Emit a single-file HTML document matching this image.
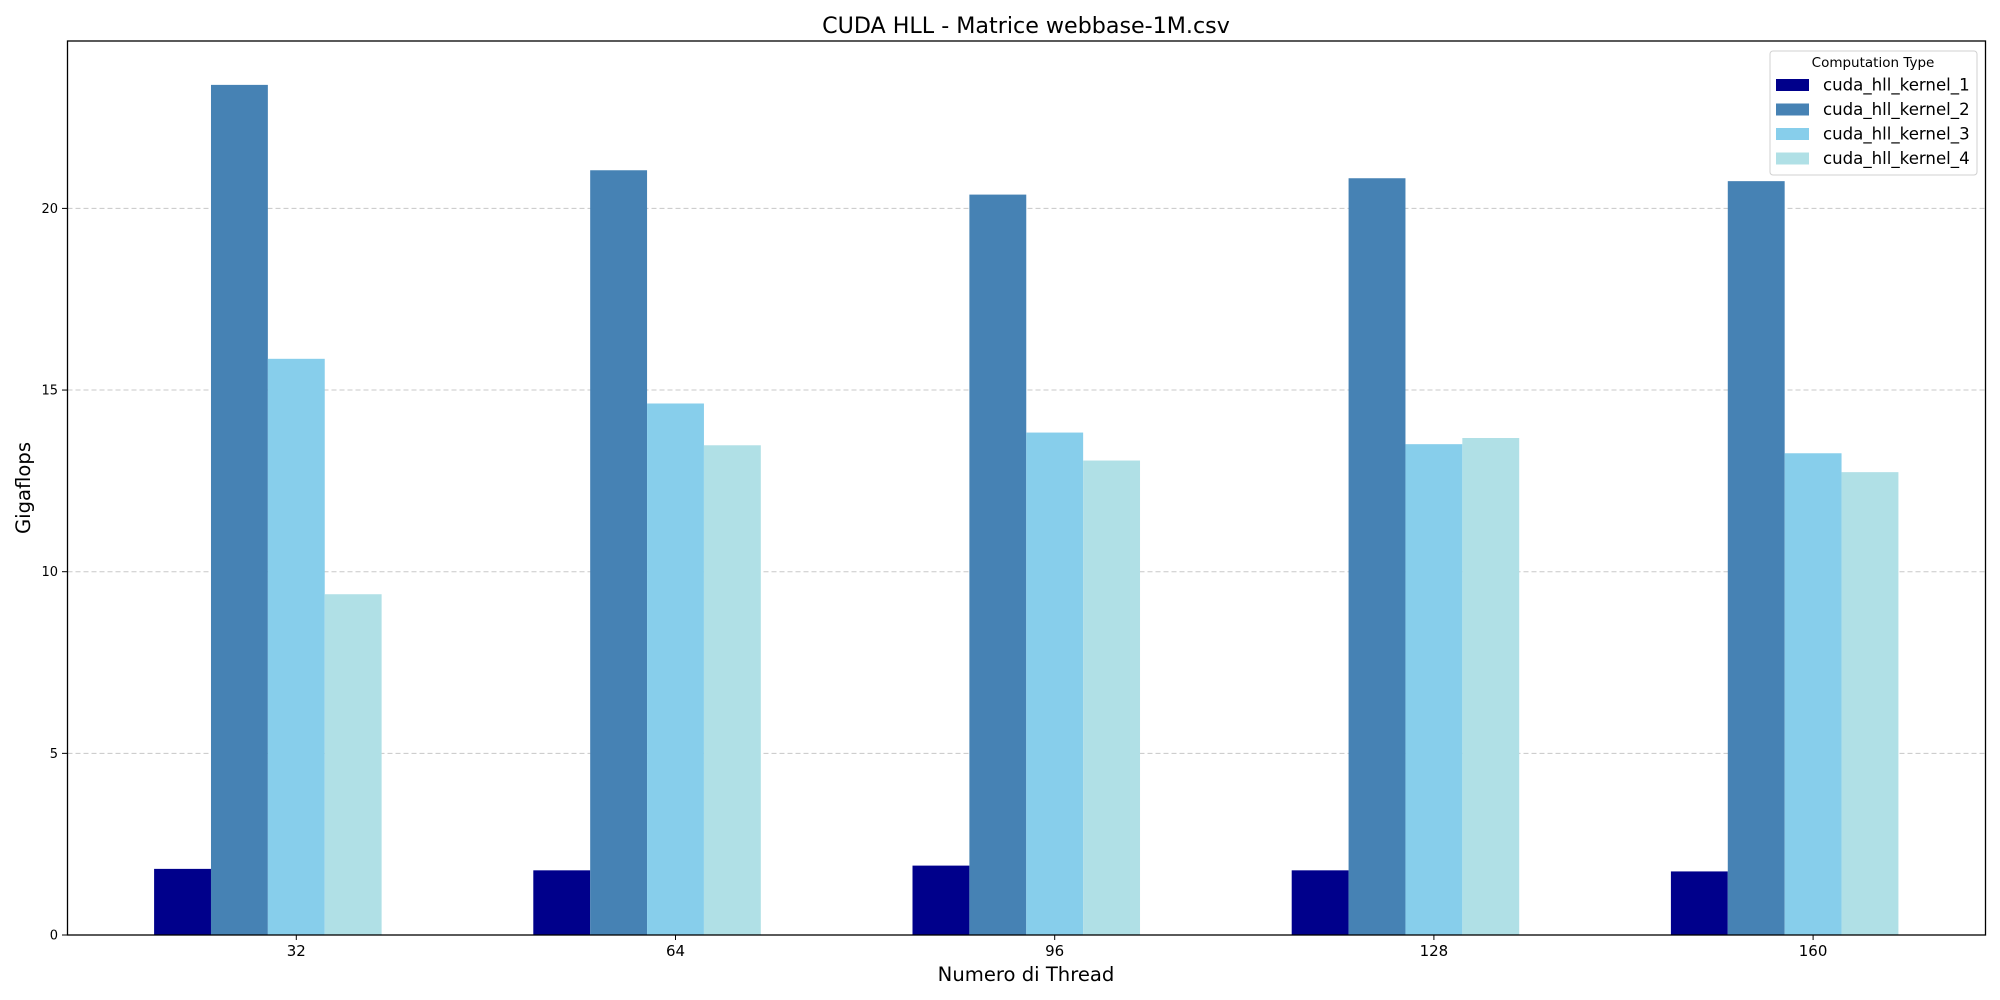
<!DOCTYPE html>
<html><head><meta charset="utf-8"><style>
html,body{margin:0;padding:0;background:#fff;}
svg{display:block;font-family:"DejaVu Sans","Liberation Sans",sans-serif;}
</style></head><body>
<svg id="chart" width="2000" height="1000">
<text x="1026" y="33" text-anchor="middle" font-size="22.2">CUDA HLL - Matrice webbase-1M.csv</text>
<g id="grid"></g>
<g id="bars"></g>
<rect x="67.5" y="41" width="1918" height="894" fill="none" stroke="#000" stroke-width="1.3"/>
<g id="yticks"></g>
<g id="xticks"></g>
<text x="1026" y="981" text-anchor="middle" font-size="19.6">Numero di Thread</text>
<text transform="translate(30,488) rotate(-90)" text-anchor="middle" font-size="19.6">Gigaflops</text>
<g id="legend"></g>
</svg>
<script>
const categories = ["32","64","96","128","160"];
const seriesNames = ["cuda_hll_kernel_1","cuda_hll_kernel_2","cuda_hll_kernel_3","cuda_hll_kernel_4"];
const kernel1 = [1.82,1.78,1.91,1.78,1.75];
const kernel2 = [23.4,21.05,20.38,20.83,20.75];
const kernel3 = [15.86,14.63,13.83,13.51,13.26];
const kernel4 = [9.38,13.48,13.06,13.68,12.74];
const yTicks = [0,5,10,15,20];

const series = [kernel1,kernel2,kernel3,kernel4];
const colors = ["#00008b","#4682b4","#87ceeb","#b0e0e6"];
const NS="http://www.w3.org/2000/svg";
const y0=935, yUnit=36.33;
const x0=296.3, xStep=379.2, bw=0.15*xStep;
function yS(v){return y0-v*yUnit;}
function xS(i){return x0+i*xStep;}
function mk(tag,attrs,parent){const e=document.createElementNS(NS,tag);for(const k in attrs)e.setAttribute(k,attrs[k]);parent.appendChild(e);return e;}
const grid=document.getElementById('grid'),bars=document.getElementById('bars'),yt=document.getElementById('yticks'),xt=document.getElementById('xticks'),lg=document.getElementById('legend');
yTicks.forEach(v=>{
  const y=yS(v);
  if(v>0){const l=mk('line',{x1:67.5,x2:1985.5,y1:y,y2:y,stroke:'#c8c8c8','stroke-dasharray':'5,3','stroke-width':1},grid);
  
  }
  const t=mk('line',{x1:62,x2:67.5,y1:y,y2:y,stroke:'#000'},yt);
  
  
  const tx=mk('text',{x:58,y:y+4.5,'text-anchor':'end','font-size':13},yt);
  tx.textContent=v;
  
  
});
categories.forEach((c,i)=>{
  const x=xS(i);
  const t=mk('line',{x1:x,x2:x,y1:935,y2:940,stroke:'#000'},xt);
  
  
  const tx=mk('text',{x:x,y:956,'text-anchor':'middle','font-size':15},xt);
  tx.textContent=c;
  
  
  series.forEach((s,j)=>{
    const cx=x+(j-2)*bw;
    const r=mk('rect',{x:cx-bw/2,y:yS(s[i]),width:bw,height:s[i]*yUnit,fill:colors[j]},bars);
    
    
  });
});
mk('rect',{x:1770,y:51,width:207,height:124,rx:3,fill:'#fff','fill-opacity':0.85,stroke:'#d0d0d0'},lg);
const lt=mk('text',{x:1873,y:67,'text-anchor':'middle','font-size':13.5},lg);
lt.textContent="Computation Type";


seriesNames.forEach((n,j)=>{
  const y=79+j*24.5;
  const sw=mk('rect',{x:1776,y:y,width:33,height:12,fill:colors[j]},lg);
  
  
  const t=mk('text',{x:1823,y:y+11.5,'font-size':16.6},lg);
  t.textContent=n;
  
  
});
</script>
</body></html>
